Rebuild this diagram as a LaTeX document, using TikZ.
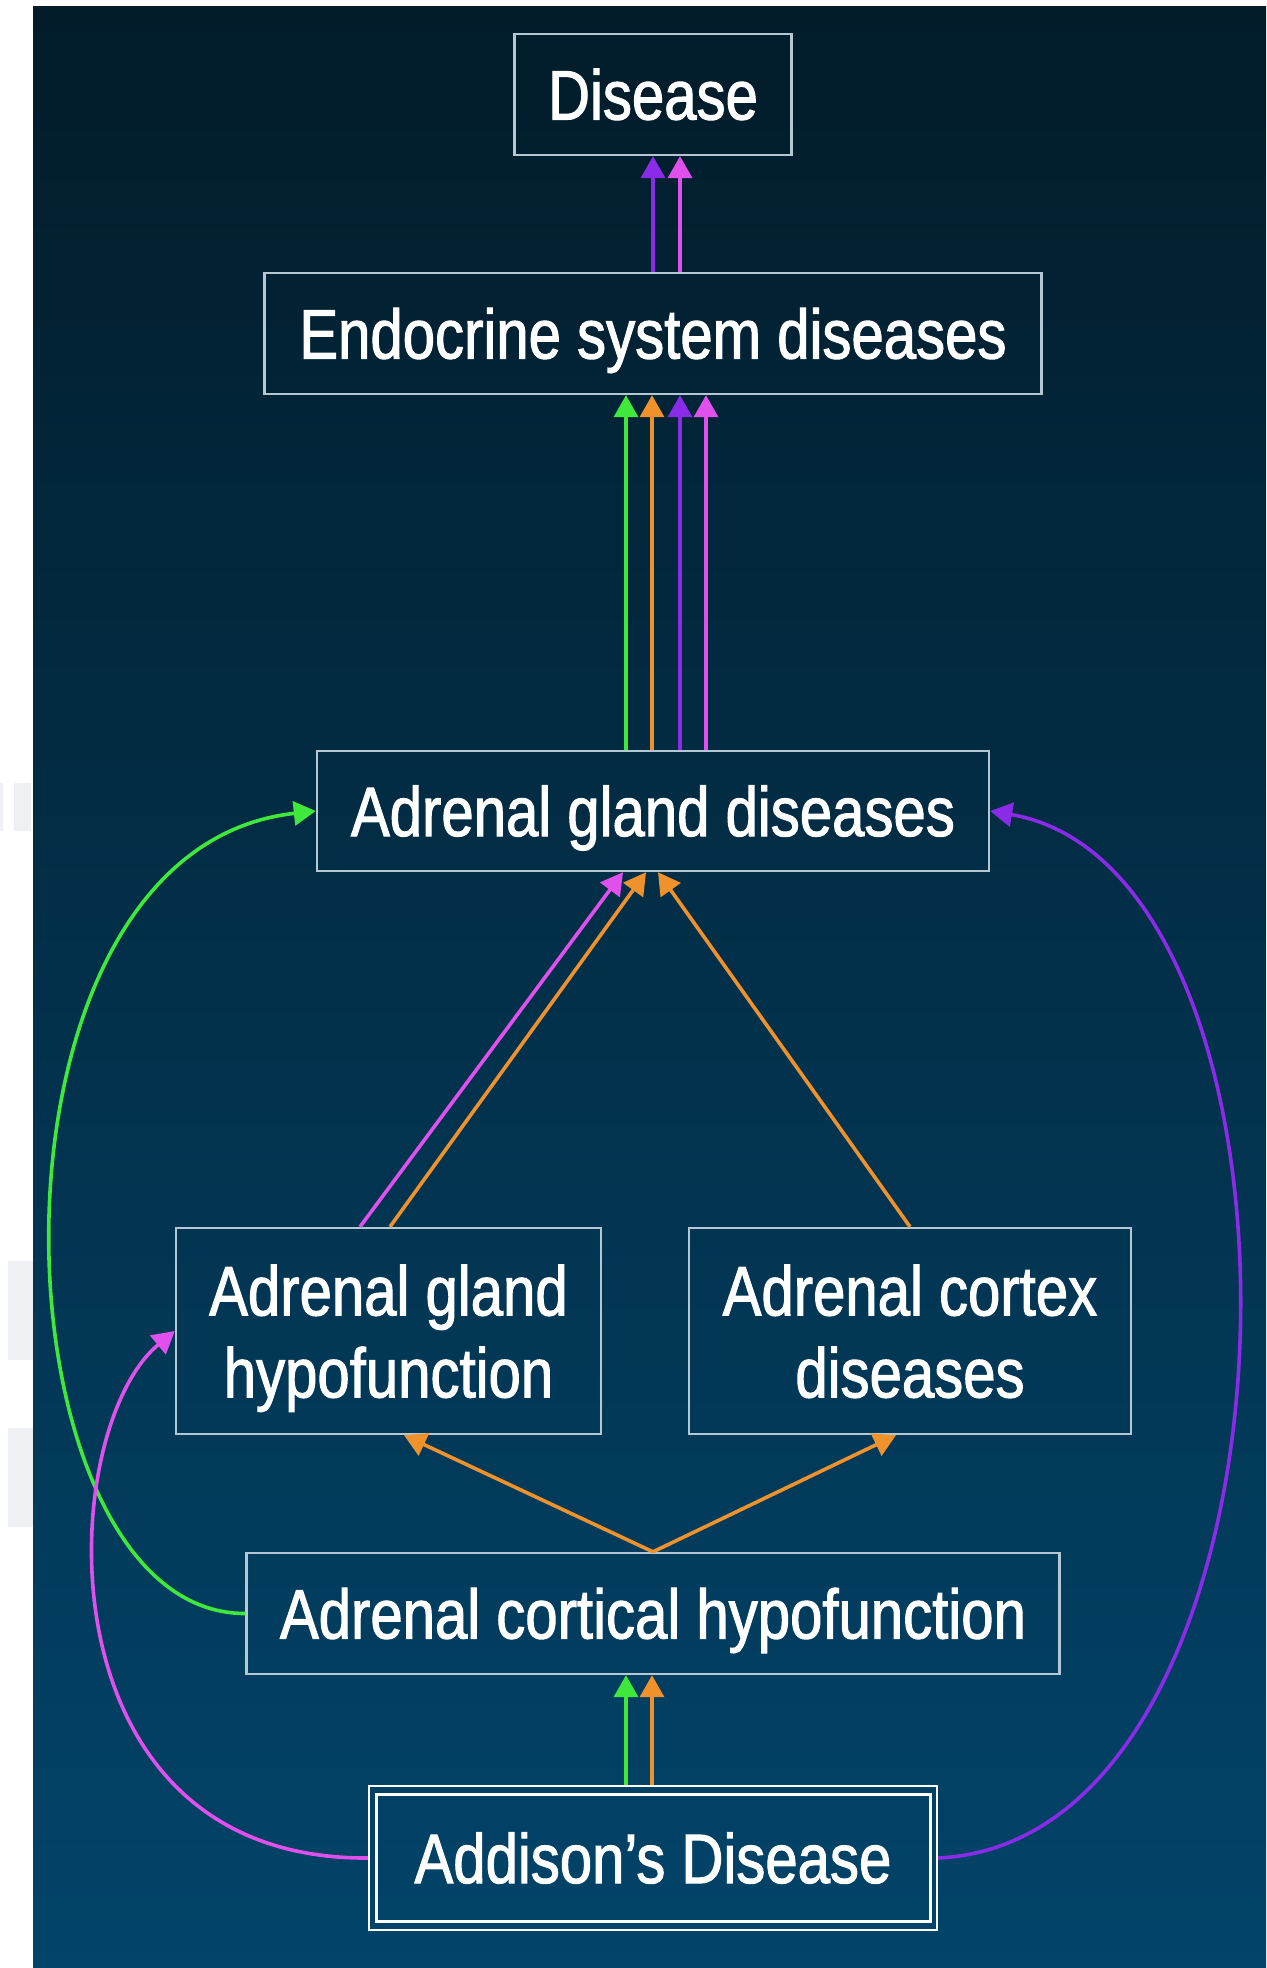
\documentclass[tikz,border=0pt]{standalone}
\usepackage{fontspec}
\usetikzlibrary{arrows.meta,calc}
\newfontfamily\labfont[FakeStretch=0.83,FakeBold=1.5]{Liberation Sans}
\definecolor{bgtop}{HTML}{021C2A}
\definecolor{bgmid}{HTML}{022B44}
\definecolor{bgbot}{HTML}{02446A}
\definecolor{boxc}{HTML}{B4C8D4}
\definecolor{cgreen}{HTML}{40E83C}
\definecolor{corange}{HTML}{F0922C}
\definecolor{cvio}{HTML}{8A2BE8}
\definecolor{cpink}{HTML}{E050EC}
\definecolor{patch}{HTML}{EEF0F3}
\tikzset{
  box/.style={draw=boxc, line width=1.2pt, text=white,
    font=\labfont\fontsize{35}{41}\selectfont, inner sep=0pt,
    text depth=0pt, align=center},
  con/.style={line width=1.8pt, -{Triangle[length=11pt,width=12pt]}},
}
\begin{document}
\begin{tikzpicture}[x=0.5pt,y=-0.5pt]
\useasboundingbox (0,0) rectangle (1266,1968);
\fill[white] (0,0) rectangle (1266,1968);
\fill[patch] (0,783) rectangle (3,831);
\fill[patch] (14,783) rectangle (31,831);
\fill[patch] (8,1261) rectangle (33,1360);
\fill[patch] (8,1428) rectangle (33,1527);
\shade[top color=bgtop, middle color=bgmid, bottom color=bgbot] (33,7) rectangle (1266,1968);

\node[box, minimum width=138.5pt, minimum height=60.5pt, text height=25pt] (dis) at (653,94.5) {Disease};
\node[box, minimum width=388.5pt, minimum height=60.5pt, text height=25pt] (endo) at (653,333.5) {Endocrine system diseases};
\node[box, minimum width=336pt, minimum height=60pt, text height=25pt] (agd) at (653,811) {Adrenal gland diseases};
\node[box, minimum width=212.5pt, minimum height=103pt] (agh) at (388.5,1331) {Adrenal gland\\hypofunction};
\node[box, minimum width=221pt, minimum height=103pt] (acd) at (910,1331) {Adrenal cortex\\diseases};
\node[box, minimum width=406.5pt, minimum height=60.5pt, text height=25pt] (ach) at (653,1613.5) {Adrenal cortical hypofunction};
\node[box, draw=white, minimum width=284pt, minimum height=72pt, text height=25pt] (add) at (653,1858) {Addison’s Disease};
\draw[white, line width=1.4pt] ($(add.north west)+(9,10)$) rectangle ($(add.south east)+(-8,-10)$);

% Endocrine -> Disease
\draw[con, cvio] (endo.north) -- (dis.south);
\draw[con, cpink] ($(endo.north)+(27,0)$) -- ($(dis.south)+(27,0)$);

% Adrenal gland diseases -> Endocrine
\draw[con, cgreen] ($(agd.north)+(-27,0)$) -- ($(endo.south)+(-27,0)$);
\draw[con, corange] ($(agd.north)+(-1,0)$) -- ($(endo.south)+(-1,0)$);
\draw[con, cvio] ($(agd.north)+(27,0)$) -- ($(endo.south)+(27,0)$);
\draw[con, cpink] ($(agd.north)+(53,0)$) -- ($(endo.south)+(53,0)$);

% hypofunction / cortex -> Adrenal gland diseases
\draw[con, cpink] ($(agh.north)+(-28.5,0)$) -- ($(agd.south)+(-30,0)$);
\draw[con, corange] ($(agh.north)+(1.5,0)$) -- ($(agd.south)+(-7,0)$);
\draw[con, corange] (acd.north) -- ($(agd.south)+(5,0)$);

% cortical hypofunction -> hypofunction / cortex
\draw[con, corange] (ach.north) -- ($(agh.south)+(15.5,0)$);
\draw[con, corange] (ach.north) -- ($(acd.south)+(-14,0)$);

% Addison -> cortical hypofunction
\draw[con, cgreen] ($(add.north)+(-27,0)$) -- ($(ach.south)+(-27,0)$);
\draw[con, corange] ($(add.north)+(-1,0)$) -- ($(ach.south)+(-1,0)$);

% curved connectors
\draw[con, cgreen] (ach.west) .. controls (-10,1614) and (-40,850) .. (agd.west);
\draw[con, cvio] (add.east) .. controls (1320,1840) and (1336,870) .. (agd.east);
\draw[con, cpink] (add.west) .. controls (35,1860) and (55,1430) .. (agh.west);
\end{tikzpicture}
\end{document}
